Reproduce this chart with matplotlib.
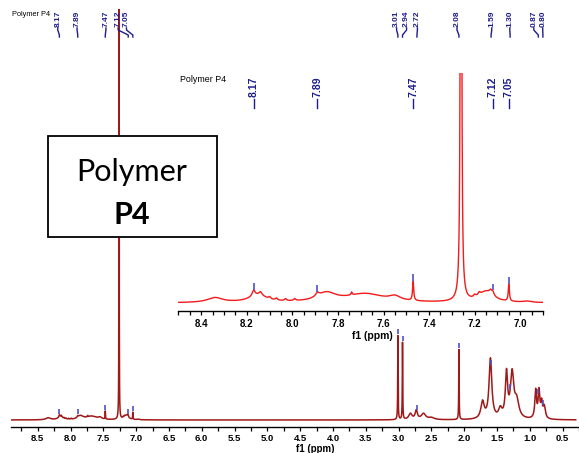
import numpy as np
import matplotlib.pyplot as plt
from matplotlib.patches import Rectangle
from matplotlib.transforms import blended_transform_factory

W, H = 579, 453

# 1H NMR peak list
# centre (ppm), height (main-plot pixels above baseline), half width (ppm)
peak_ppm = [8.34, 8.15, 8.17, 8.14, 8.10, 8.07, 8.03, 7.99,
            7.85, 7.68, 7.55, 7.89, 7.74, 7.47, 7.26, 7.26,
            7.15, 7.20, 7.18, 7.13, 7.12, 7.05, 6.97,
            3.01, 2.94, 2.82, 2.73, 2.62, 2.50, 2.08,
            1.72, 1.60, 1.45, 1.355, 1.27, 1.20,
            0.91, 0.86, 0.82, 0.78]
peak_height = [2.0, 2.8, 2.5, 1.5, 0.8, 0.8, 0.8, 0.8,
               3.6, 3.6, 1.8, 1.5, 1.2, 8.0, 1000.0, 3.0,
               4.5, 1.0, 1.2, 1.5, 1.5, 7.0, 0.5,
               84.0, 77.0, 6.0, 9.0, 6.0, 2.0, 70.0,
               17.0, 60.0, 9.0, 44.0, 44.0, 17.0,
               28.0, 27.0, 15.0, 12.0]
peak_hwhm = [0.04, 0.05, 0.008, 0.008, 0.005, 0.005, 0.005, 0.005,
             0.05, 0.10, 0.03, 0.01, 0.003, 0.003, 0.0014, 0.012,
             0.04, 0.006, 0.006, 0.006, 0.006, 0.003, 0.02,
             0.0035, 0.0035, 0.03, 0.02, 0.04, 0.05, 0.0035,
             0.03, 0.025, 0.03, 0.02, 0.03, 0.04,
             0.015, 0.015, 0.015, 0.02]

# labelled shifts
main_labels = [8.17, 7.89, 7.47, 7.12, 7.05, 3.01, 2.94, 2.72, 2.08, 1.59, 1.30, 0.87, 0.80]
inset_labels = [8.17, 7.89, 7.47, 7.12, 7.05]
main_ticks = [8.5, 8.0, 7.5, 7.0, 6.5, 6.0, 5.5, 5.0, 4.5, 4.0, 3.5, 3.0, 2.5, 2.0, 1.5, 1.0, 0.5]
inset_ticks = [8.4, 8.2, 8.0, 7.8, 7.6, 7.4, 7.2, 7.0]

# where the rotated label text sits (ppm), spread apart like the original
main_label_pos = [8.194, 7.90, 7.46, 7.274, 7.147, 3.03, 2.878, 2.713, 2.11, 1.58, 1.305, 0.939, 0.803]

NAVY = "#1c1c8c"
MARK = "#5050c8"
DARKRED = "#a01818"
RED = "#f21a1a"


def spectrum(x):
    c = np.array(peak_ppm)[:, None]
    h = np.array(peak_height)[:, None]
    w = np.array(peak_hwhm)[:, None]
    return np.sum(h / (1 + ((x[None, :] - c) / w) ** 2), axis=0)


def px_box(x0, y0, x1, y1):
    return [x0 / W, 1 - y1 / H, (x1 - x0) / W, (y1 - y0) / H]


def style_axis(ax, ticks, minor_step, fs, pad):
    for s in ["top", "left", "right"]:
        ax.spines[s].set_visible(False)
    ax.spines["bottom"].set_linewidth(1.0)
    ax.set_yticks([])
    ax.set_xticks(ticks)
    ax.set_xticklabels([f"{t:.1f}" for t in ticks], fontweight="bold", fontsize=fs)
    lo, hi = ax.get_xlim()
    ax.set_xticks(np.arange(np.floor(hi / minor_step) * minor_step, lo, minor_step), minor=True)
    ax.tick_params(axis="x", which="both", direction="out", length=3, width=0.9, pad=pad)
    ax.patch.set_visible(False)


plt.rcParams["font.family"] = ["Liberation Sans", "DejaVu Sans"]
fig = plt.figure(figsize=(W / 100, H / 100), dpi=100)

# ---- main spectrum ----
ax = fig.add_axes(px_box(11, 9, 579, 427))
x = np.linspace(9.0, 0.3, 40000)
y = spectrum(x)
ax.plot(x, y, color=DARKRED, lw=1.1)
ax.set_xlim(8.907, 0.334)
ax.set_ylim(-7, 411)
style_axis(ax, main_ticks, 0.25, 6.8, 2.3)
ax.set_xlabel("f1 (ppm)", fontweight="bold", fontsize=7, labelpad=0)
ax.xaxis.set_label_coords((315 - 11) / (579 - 11), -(444 - 427) / (427 - 9), transform=ax.transAxes)

for v in main_labels:
    top = spectrum(np.array([v]))[0]
    ax.plot([v, v], [top + 1, top + 6], color=MARK, lw=1.2, solid_capstyle="butt")

# peak labels across the top
tr = blended_transform_factory(ax.transData, fig.transFigure)
for v, p in zip(main_labels, main_label_pos):
    fig.text(p, 1 - 27 / H, f"{v:.2f}", transform=tr, rotation=90, ha="center", va="bottom",
             fontsize=6, fontweight="bold", color=NAVY)
    ax.plot([p, p, v, v], [1 - 28 / H, 1 - 30 / H, 1 - 35 / H, 1 - 37 / H], transform=tr,
            color=NAVY, lw=1.0, clip_on=False)
fig.text(12 / W, 1 - 15 / H, "Polymer P4", fontsize=5.3, va="center", ha="left")

# ---- inset (aromatic region) ----
ax2 = fig.add_axes(px_box(178, 73, 543, 311))
xi = np.linspace(8.55, 6.9, 12000)
yi = spectrum(xi)
scale = 2.4
ax2.plot(xi, yi, color=RED, lw=1.0)
ax2.set_xlim(8.502, 6.92)
ax2.set_ylim(-8 / scale, (303 - 73) / scale)
style_axis(ax2, inset_ticks, 0.05, 7, 3)
ax2.set_xlabel("f1 (ppm)", fontweight="bold", fontsize=7.5, labelpad=0)
ax2.xaxis.set_label_coords((372 - 178) / (543 - 178), -(331 - 311) / (311 - 73), transform=ax2.transAxes)

for v in inset_labels:
    top = spectrum(np.array([v]))[0]
    ax2.plot([v, v], [top + 0.5 / scale, top + 7 / scale], color=MARK, lw=1.2, solid_capstyle="butt")

tr2 = blended_transform_factory(ax2.transData, fig.transFigure)
for v in inset_labels:
    fig.text(v, 1 - 97 / H, f"{v:.2f}", transform=tr2, rotation=90, ha="center", va="bottom",
             fontsize=7.5, fontweight="bold", color=NAVY)
    ax2.plot([v, v], [1 - 99 / H, 1 - 108 / H], transform=tr2, color=NAVY, lw=1.0, clip_on=False)
fig.text(180 / W, 1 - 80 / H, "Polymer P4", fontsize=6.4, va="center", ha="left")

# ---- title box ----
fig.patches.append(Rectangle((48 / W, 1 - 237 / H), (217 - 48) / W, (237 - 136) / H,
                             transform=fig.transFigure, facecolor="white", edgecolor="black",
                             lw=1.3, zorder=5))
fig.text(132 / W, 1 - 172 / H, "Polymer", fontsize=22, family="Lato", ha="center", va="center", zorder=6)
fig.text(132 / W, 1 - 215 / H, "P4", fontsize=22, family="Lato", fontweight="bold",
         ha="center", va="center", zorder=6)

fig.savefig("out.png", dpi=100)
